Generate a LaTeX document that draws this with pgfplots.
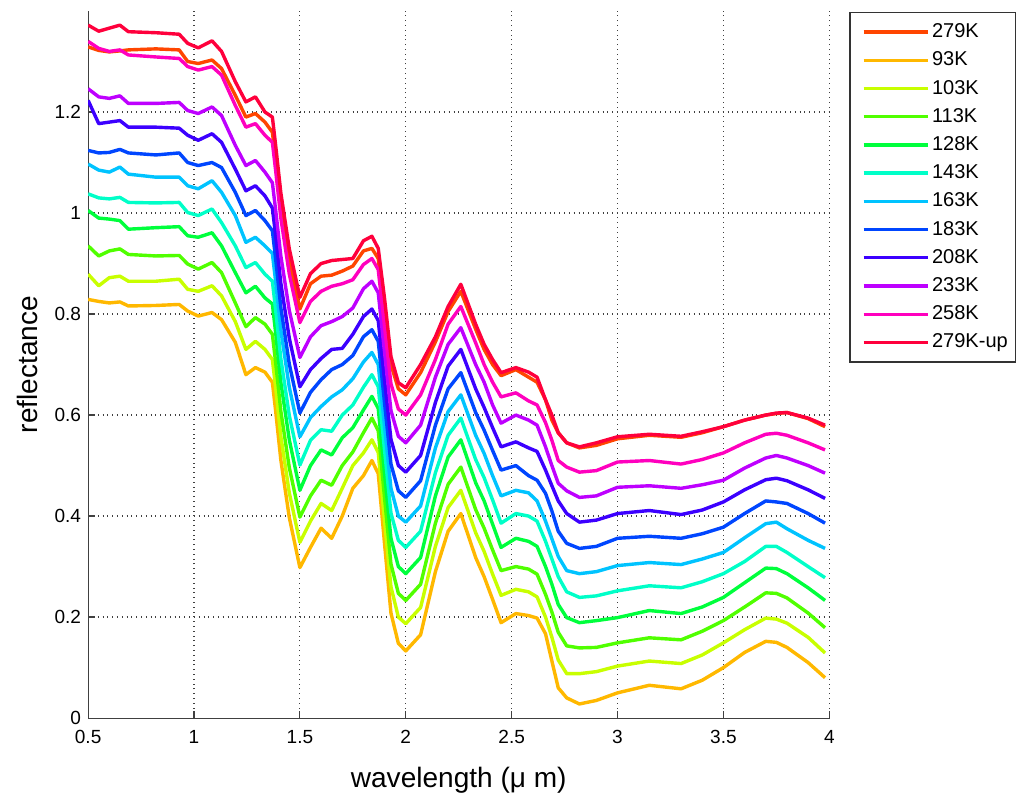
\documentclass[border=0pt]{standalone}
\usepackage{fontspec}
\setmainfont{Liberation Sans}
\usepackage{pgfplots}
\usepackage{pgfplotstable}
\pgfplotsset{compat=1.18}

\definecolor{cA}{RGB}{255,69,0}
\definecolor{cB}{RGB}{255,184,0}
\definecolor{cC}{RGB}{200,255,0}
\definecolor{cD}{RGB}{80,255,0}
\definecolor{cE}{RGB}{0,255,60}
\definecolor{cF}{RGB}{0,255,200}
\definecolor{cG}{RGB}{0,195,255}
\definecolor{cH}{RGB}{0,70,255}
\definecolor{cI}{RGB}{60,0,255}
\definecolor{cJ}{RGB}{190,0,255}
\definecolor{cK}{RGB}{255,0,190}
\definecolor{cL}{RGB}{255,0,60}

% reflectance spectra, one column per temperature
\pgfplotstableread{
x     k279  k93   k103  k113  k128  k143  k163  k183  k208  k233  k258  k279up
0.5   1.329 0.829 0.879 0.935 1.005 1.038 1.097 1.124 1.223 1.246 1.340 1.372
0.55  1.322 0.825 0.856 0.915 0.990 1.030 1.085 1.119 1.177 1.230 1.326 1.360
0.6   1.319 0.822 0.872 0.925 0.988 1.028 1.081 1.120 1.180 1.227 1.320 1.366
0.65  1.321 0.824 0.875 0.929 0.985 1.031 1.091 1.126 1.183 1.232 1.323 1.372
0.69  1.323 0.816 0.865 0.918 0.968 1.021 1.077 1.119 1.170 1.217 1.313 1.359
0.82  1.325 0.817 0.865 0.915 0.971 1.020 1.071 1.115 1.170 1.217 1.309 1.357
0.93  1.323 0.819 0.869 0.916 0.973 1.021 1.071 1.119 1.168 1.219 1.306 1.354
0.97  1.300 0.806 0.849 0.899 0.955 1.001 1.054 1.100 1.154 1.203 1.290 1.336
1.02  1.296 0.796 0.845 0.889 0.952 0.995 1.048 1.094 1.144 1.197 1.283 1.327
1.085 1.303 0.803 0.856 0.902 0.961 1.008 1.064 1.100 1.157 1.210 1.290 1.341
1.13  1.286 0.789 0.836 0.882 0.935 0.981 1.041 1.090 1.140 1.193 1.273 1.320
1.195 1.233 0.744 0.785 0.822 0.882 0.935 0.995 1.041 1.087 1.134 1.213 1.260
1.245 1.190 0.680 0.730 0.775 0.842 0.892 0.942 0.995 1.044 1.094 1.170 1.220
1.29  1.197 0.694 0.746 0.793 0.855 0.902 0.952 1.005 1.054 1.104 1.177 1.230
1.335 1.180 0.685 0.730 0.780 0.832 0.879 0.935 0.985 1.034 1.081 1.154 1.200
1.37  1.160 0.665 0.710 0.760 0.820 0.865 0.920 0.965 1.010 1.060 1.140 1.190
1.385 1.108 0.610 0.656 0.706 0.765 0.810 0.866 0.911 0.957 1.008 1.086 1.136
1.41  1.013 0.511 0.558 0.608 0.665 0.712 0.768 0.813 0.861 0.915 0.990 1.040
1.45  0.905 0.397 0.446 0.496 0.551 0.599 0.655 0.701 0.752 0.807 0.879 0.929
1.5   0.810 0.298 0.348 0.398 0.451 0.501 0.557 0.604 0.656 0.714 0.783 0.833
1.55  0.860 0.338 0.390 0.440 0.500 0.550 0.595 0.645 0.690 0.755 0.825 0.880
1.6   0.875 0.376 0.425 0.471 0.531 0.571 0.617 0.670 0.712 0.777 0.845 0.900
1.65  0.877 0.356 0.411 0.461 0.521 0.568 0.636 0.690 0.730 0.785 0.855 0.906
1.7   0.885 0.400 0.455 0.500 0.555 0.600 0.650 0.700 0.732 0.795 0.860 0.908
1.75  0.895 0.455 0.500 0.527 0.575 0.620 0.672 0.718 0.760 0.812 0.868 0.910
1.8   0.925 0.480 0.525 0.565 0.610 0.655 0.705 0.755 0.795 0.850 0.898 0.945
1.84  0.930 0.510 0.551 0.594 0.637 0.680 0.724 0.769 0.810 0.865 0.910 0.954
1.87  0.910 0.484 0.526 0.569 0.613 0.656 0.700 0.746 0.787 0.842 0.888 0.930
1.9   0.800 0.344 0.390 0.435 0.483 0.530 0.576 0.623 0.668 0.724 0.774 0.830
1.93  0.700 0.208 0.260 0.305 0.356 0.406 0.455 0.503 0.552 0.609 0.662 0.716
1.965 0.652 0.148 0.200 0.247 0.300 0.352 0.400 0.450 0.500 0.558 0.612 0.664
2.0   0.640 0.133 0.187 0.233 0.286 0.338 0.388 0.437 0.487 0.545 0.600 0.654
2.07  0.684 0.165 0.219 0.265 0.318 0.370 0.420 0.470 0.520 0.580 0.640 0.700
2.14  0.745 0.290 0.340 0.386 0.440 0.486 0.535 0.580 0.625 0.675 0.710 0.755
2.2   0.805 0.370 0.417 0.463 0.517 0.560 0.607 0.652 0.697 0.740 0.780 0.815
2.26  0.845 0.405 0.451 0.497 0.551 0.594 0.640 0.684 0.730 0.773 0.815 0.859
2.33  0.770 0.318 0.367 0.413 0.466 0.512 0.560 0.605 0.652 0.700 0.743 0.780
2.37  0.730 0.280 0.330 0.376 0.430 0.476 0.524 0.570 0.615 0.665 0.700 0.740
2.41  0.700 0.235 0.285 0.333 0.384 0.432 0.480 0.530 0.575 0.620 0.665 0.710
2.45  0.678 0.189 0.243 0.292 0.338 0.386 0.440 0.491 0.537 0.584 0.636 0.684
2.52  0.690 0.207 0.255 0.300 0.356 0.405 0.451 0.500 0.547 0.600 0.644 0.694
2.58  0.675 0.203 0.250 0.295 0.350 0.400 0.446 0.480 0.535 0.590 0.628 0.685
2.62  0.665 0.198 0.240 0.285 0.340 0.390 0.430 0.471 0.528 0.580 0.620 0.675
2.66  0.630 0.167 0.200 0.245 0.300 0.350 0.390 0.445 0.491 0.537 0.585 0.630
2.69  0.590 0.113 0.160 0.210 0.265 0.315 0.355 0.410 0.460 0.500 0.550 0.600
2.72  0.565 0.060 0.115 0.170 0.225 0.280 0.320 0.370 0.430 0.465 0.510 0.565
2.76  0.545 0.040 0.088 0.143 0.199 0.250 0.292 0.346 0.405 0.450 0.497 0.545
2.82  0.535 0.028 0.088 0.139 0.189 0.239 0.286 0.336 0.388 0.437 0.487 0.537
2.9   0.540 0.035 0.092 0.140 0.193 0.242 0.290 0.340 0.392 0.440 0.490 0.545
3.0   0.553 0.050 0.103 0.149 0.199 0.252 0.302 0.356 0.405 0.457 0.507 0.557
3.15  0.560 0.065 0.113 0.159 0.213 0.262 0.308 0.360 0.411 0.460 0.510 0.562
3.3   0.556 0.058 0.108 0.155 0.207 0.258 0.304 0.356 0.403 0.455 0.503 0.558
3.4   0.565 0.075 0.125 0.172 0.220 0.270 0.315 0.365 0.412 0.462 0.512 0.567
3.5   0.577 0.100 0.149 0.193 0.239 0.286 0.328 0.378 0.428 0.471 0.525 0.577
3.6   0.590 0.130 0.175 0.220 0.268 0.310 0.357 0.405 0.452 0.495 0.545 0.590
3.7   0.600 0.152 0.198 0.248 0.297 0.340 0.385 0.430 0.472 0.515 0.562 0.600
3.75  0.603 0.150 0.196 0.247 0.296 0.340 0.388 0.428 0.475 0.520 0.564 0.604
3.8   0.605 0.140 0.188 0.238 0.286 0.328 0.375 0.425 0.470 0.515 0.560 0.605
3.9   0.593 0.110 0.160 0.208 0.258 0.300 0.352 0.405 0.452 0.500 0.545 0.594
3.98  0.577 0.080 0.129 0.179 0.233 0.278 0.336 0.386 0.435 0.485 0.531 0.580
}\spectra

\begin{document}
\begin{tikzpicture}
\begin{axis}[
  scale only axis, width=370pt, height=353pt,
  xmin=0.5, xmax=4, ymin=0, ymax=1.4,
  xtick={0.5,1,1.5,2,2.5,3,3.5,4},
  ytick={0,0.2,0.4,0.6,0.8,1,1.2},
  axis lines=left, axis line style={-, black!75, line width=0.6pt},
  tick style={black!75, line width=0.6pt}, tick align=inside, major tick length=3.5pt,
  grid=major, major grid style={dotted, black!75, line width=0.6pt},
  ticklabel style={font=\fontsize{9.5}{11}\selectfont},
  xticklabel style={yshift=-2.5pt},
  /pgf/number format/assume math mode=true,
  xlabel={wavelength (μ m)}, ylabel={reflectance},
  label style={font=\fontsize{14}{16}\selectfont},
  xlabel style={yshift=-5pt},
  ylabel style={yshift=1.5pt},
  every axis plot/.append style={line width=1.7pt, line join=round},
  legend style={at={(1,1)}, anchor=north west, xshift=10pt, yshift=-0.5pt, draw=black!80, line width=0.6pt,
    font=\fontsize{10}{12}\selectfont, row sep=1.6pt, inner xsep=2.5pt, inner ysep=3.5pt,
    nodes={inner xsep=1.3pt}},
  legend cell align=left,
  legend image code/.code={\path (0pt,0pt); \draw[#1, line width=1.7pt] (3.5pt,0pt) -- (35.5pt,0pt);},
]
\coordinate (tl) at (rel axis cs:0,1);
\coordinate (bl) at (rel axis cs:0,0);
\addplot[cA] table[x=x, y=k279] {\spectra};
\addplot[cB] table[x=x, y=k93] {\spectra};
\addplot[cC] table[x=x, y=k103] {\spectra};
\addplot[cD] table[x=x, y=k113] {\spectra};
\addplot[cE] table[x=x, y=k128] {\spectra};
\addplot[cF] table[x=x, y=k143] {\spectra};
\addplot[cG] table[x=x, y=k163] {\spectra};
\addplot[cH] table[x=x, y=k183] {\spectra};
\addplot[cI] table[x=x, y=k208] {\spectra};
\addplot[cJ] table[x=x, y=k233] {\spectra};
\addplot[cK] table[x=x, y=k258] {\spectra};
\addplot[cL] table[x=x, y=k279up] {\spectra};
\legend{279K,93K,103K,113K,128K,143K,163K,183K,208K,233K,258K,279K-up}
\end{axis}
% blank margin above and left of the axis, as in the reference
\path ([xshift=-44pt, yshift=5.5pt]tl) ([yshift=-35pt]bl);
\end{tikzpicture}
\end{document}
